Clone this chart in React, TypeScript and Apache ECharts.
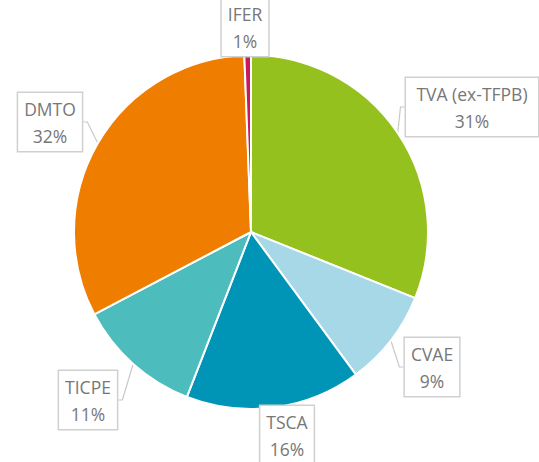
import React, { useEffect, useRef } from "react";
import * as echarts from "echarts";

const categories = ["TVA (ex-TFPB)", "CVAE", "TSCA", "TICPE", "DMTO", "IFER"];
const values = [31.1, 8.8, 16.0, 11.4, 32.1, 0.6];
const colors = ["#95c11f", "#a6d8e7", "#0095b6", "#4cbcbc", "#ef7d00", "#c8185e"];
// label box centres (layout only)
const labelCenters: [number, number][] = [
  [472, 107],
  [432, 367],
  [287, 435],
  [88, 400],
  [50, 122],
  [245, 27],
];

export default function App() {
  const ref = useRef<HTMLDivElement>(null);
  useEffect(() => {
    if (!ref.current) return;
    const chart = echarts.init(ref.current, undefined, { renderer: "svg" });
    chart.setOption({
      animation: false,
      backgroundColor: "#ffffff",
      series: [
        {
          type: "pie",
          center: [251, 232],
          radius: [0, 177],
          startAngle: 90,
          clockwise: true,
          data: categories.map((c, i) => ({
            name: c,
            value: values[i],
            itemStyle: { color: colors[i] },
            label: i === 0 ? { width: 120, overflow: "none" } : undefined,
          })),
          itemStyle: { borderColor: "#ffffff", borderWidth: 2 },
          label: {
            show: true,
            position: "outside",
            formatter: (p: any) => `${p.name}\n${Math.round(p.percent)}%`,
            fontFamily: "Open Sans",
            fontSize: 17.5,
            lineHeight: 27,
            color: "#777777",
            align: "center",
            backgroundColor: "#ffffff",
            borderColor: "#d0d0d0",
            borderWidth: 1.5,
            padding: [2, 6, 2, 6],
          },
          labelLine: {
            show: true,
            length: 4,
            length2: 4,
            lineStyle: { color: "#c8c8c8", width: 1.2 },
          },
          labelLayout: (params: any) => {
            const c = labelCenters[params.dataIndex];
            return { x: c[0], y: c[1], align: "center", verticalAlign: "middle" };
          },
        },
      ],
    });
    return () => chart.dispose();
  }, []);
  return (
    <div
      ref={ref}
      style={{ position: "fixed", left: 0, top: 0, width: 539, height: 462 }}
    />
  );
}
